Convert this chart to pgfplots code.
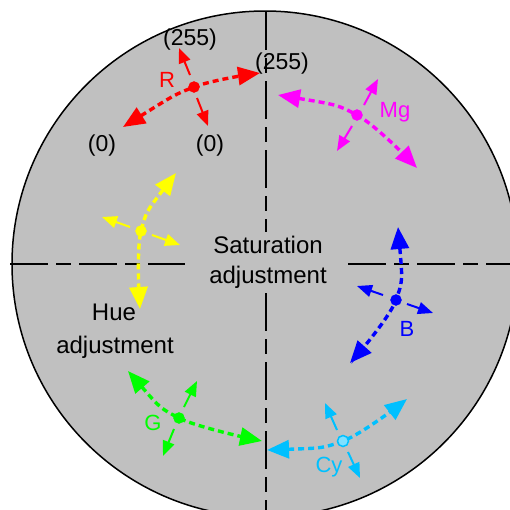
\documentclass[border=0pt]{standalone}
\usepackage{pgfplots}
\pgfplotsset{compat=1.18}
\usepackage{fontspec}
\setmainfont{Liberation Sans}
\usetikzlibrary{arrows.meta}
\definecolor{bg}{HTML}{C0C0C0}
\definecolor{rr}{HTML}{FF0000}
\definecolor{mg}{HTML}{FF00FF}
\definecolor{yy}{HTML}{FFFF00}
\definecolor{bb}{HTML}{0000FF}
\definecolor{gg}{HTML}{00FF00}
\definecolor{cy}{HTML}{00C0FF}
\definecolor{cylight}{HTML}{7FE0FF}

\pgfplotsset{
  huearc/.style={line width=3.4bp, dash pattern=on 6bp off 4bp, smooth, no markers,
    arrows={Triangle[length=22bp,width=18bp]-Triangle[length=22bp,width=18bp]}},
  satarr/.style={line width=2bp, solid, no markers,
    arrows={-Triangle[length=15bp,width=12bp]}},
  dot/.style={only marks, mark=*, mark size=5.5bp},
  axline/.style={black, line width=1.4bp, dash pattern=on 38bp off 8bp on 15bp off 8bp, no markers},
}

\begin{document}
\begin{tikzpicture}
\clip (0,0) rectangle (510bp,510bp);
\begin{axis}[
  at={(0,0)}, anchor=south west,
  width=510bp, height=510bp, scale only axis,
  xmin=0, xmax=510, ymin=0, ymax=510,
  y dir=reverse, hide axis, enlargelimits=false, clip=true,
]
% disc
\fill[bg, draw=black, line width=1.5bp] (axis cs:265,264) circle[radius=253bp];

% dashed cross
\addplot[axline] coordinates {(10,264) (185,264)};
\addplot[axline] coordinates {(348,264) (510,264)};
\addplot[axline] coordinates {(266,12) (266,232)};
\addplot[axline] coordinates {(266,293) (266,520)};

% black texts
\node[anchor=base, font=\fontsize{24bp}{28bp}\selectfont] at (axis cs:268,253) {Saturation};
\node[anchor=base, font=\fontsize{24bp}{28bp}\selectfont] at (axis cs:268,283) {adjustment};
\node[anchor=base, font=\fontsize{24bp}{28bp}\selectfont] at (axis cs:114,320) {Hue};
\node[anchor=base, font=\fontsize{24bp}{28bp}\selectfont] at (axis cs:115,353) {adjustment};
\node[anchor=base, font=\fontsize{23bp}{28bp}\selectfont] at (axis cs:190,45) {(255)};
\node[anchor=base, font=\fontsize{23bp}{28bp}\selectfont] at (axis cs:282,69) {(255)};
\node[anchor=base, font=\fontsize{23bp}{28bp}\selectfont] at (axis cs:102,151) {(0)};
\node[anchor=base, font=\fontsize{23bp}{28bp}\selectfont] at (axis cs:210,151) {(0)};

% colour labels
\node[anchor=base, rr, font=\fontsize{22bp}{26bp}\selectfont] at (axis cs:167,87) {R};
\node[anchor=base, mg, font=\fontsize{22bp}{26bp}\selectfont] at (axis cs:395,117) {Mg};
\node[anchor=base, bb, font=\fontsize{22bp}{26bp}\selectfont] at (axis cs:407,336) {B};
\node[anchor=base, gg, font=\fontsize{22bp}{26bp}\selectfont] at (axis cs:153,430) {G};
\node[anchor=base, cy, font=\fontsize{22bp}{26bp}\selectfont] at (axis cs:329,472) {Cy};

% hue arcs
\addplot[huearc, rr] coordinates {(123,127) (194,87) (260,73)};
\addplot[huearc, mg] coordinates {(278,95) (357,115) (417,168)};
\addplot[huearc, yy] coordinates {(176,173) (141,231) (140,309)};
\addplot[huearc, bb] coordinates {(398,227) (396,300) (350,363)};
\addplot[huearc, gg] coordinates {(128,371) (179,418) (262,441)};
\addplot[huearc, cy] coordinates {(267,450) (343,441) (407,399)};

% saturation arrows
\addplot[satarr, rr] coordinates {(190,75) (179,48)};
\addplot[satarr, rr] coordinates {(197,98) (208,126)};
\addplot[satarr, mg] coordinates {(364,105) (378,79)};
\addplot[satarr, mg] coordinates {(352,126) (337,151)};
\addplot[satarr, yy] coordinates {(130,227) (102,217)};
\addplot[satarr, yy] coordinates {(152,235) (180,245)};
\addplot[satarr, bb] coordinates {(383,295) (357,286)};
\addplot[satarr, bb] coordinates {(407,304) (433,313)};
\addplot[satarr, gg] coordinates {(184,407) (197,381)};
\addplot[satarr, gg] coordinates {(174,429) (163,456)};
\addplot[satarr, cy] coordinates {(337,430) (325,403)};
\addplot[satarr, cy] coordinates {(348,452) (360,478)};

% colour points
\addplot[dot, rr] coordinates {(194,87)};
\addplot[dot, mg] coordinates {(357,115)};
\addplot[dot, yy] coordinates {(141,231)};
\addplot[dot, bb] coordinates {(396,300)};
\addplot[dot, gg] coordinates {(179,418)};
\addplot[dot, mark options={fill=cylight, draw=cy, line width=1.5bp}] coordinates {(343,441)};
\end{axis}
\end{tikzpicture}
\end{document}
